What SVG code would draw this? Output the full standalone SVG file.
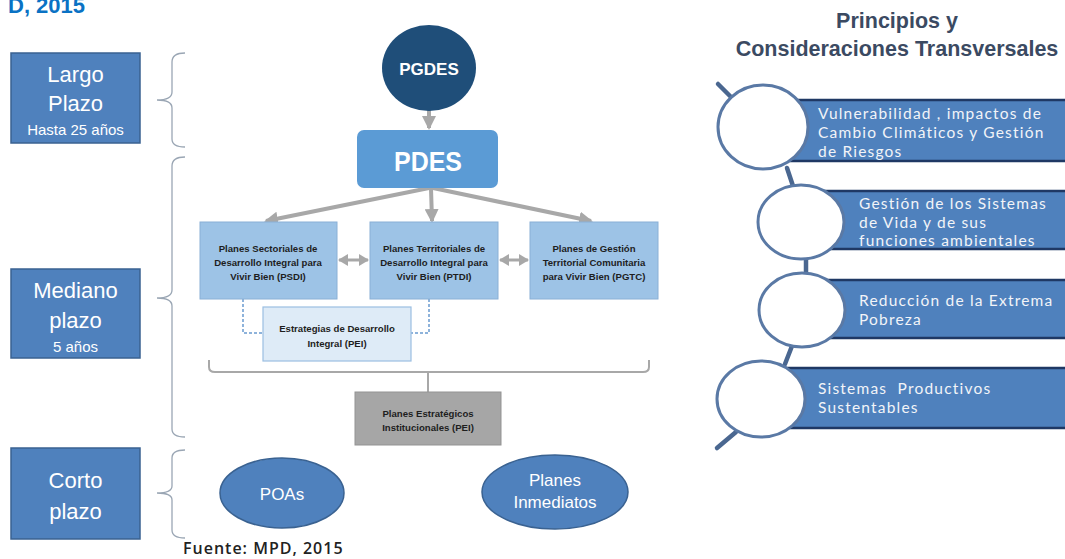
<svg xmlns="http://www.w3.org/2000/svg" width="1065" height="559" viewBox="0 0 1065 559">
<style>
.lbox{fill:#4f81bd;stroke:#3a6291;stroke-width:1.5}
.lt{font-family:"Liberation Sans",Arial,sans-serif;fill:#fff;text-anchor:middle}
.brace{fill:none;stroke:#9aa6b4;stroke-width:1.3}
.pbox{fill:#9dc3e6;stroke:#8ab0d6;stroke-width:1}
.bt{font-family:"Liberation Sans",Arial,sans-serif;font-weight:bold;font-size:9.6px;fill:#1e1e1e;text-anchor:middle}
.gline{fill:none;stroke:#a8a8a8}
.dash{fill:none;stroke:#6a9bd0;stroke-width:1.5;stroke-dasharray:3 2}
.ell{fill:#4f81bd;stroke:#3a6291;stroke-width:1.5}
.banner{fill:#4f81bd;stroke:none}
.bedge{stroke:#1f3864;stroke-width:2.5}
.circ{fill:#fff;stroke:#5a79a5;stroke-width:3}
.tl{stroke:#4a6790;stroke-width:4.5;stroke-linecap:round}
.rt{font-family:Lato,"Open Sans",sans-serif;font-size:15.5px;letter-spacing:1.2px;fill:#f2f4f8}
.tt{font-family:"Liberation Sans",Arial,sans-serif;font-weight:bold;font-size:21.5px;fill:#3b4a62;text-anchor:middle}
</style>
<defs>
<marker id="ah" markerUnits="userSpaceOnUse" markerWidth="16" markerHeight="14" refX="12" refY="7" orient="auto">
<path d="M0,0 L14,7 L0,14 Z" fill="#a8a8a8"/>
</marker>
<marker id="ahs" markerUnits="userSpaceOnUse" markerWidth="12" markerHeight="12" refX="9" refY="6" orient="auto-start-reverse">
<path d="M0,0 L10,6 L0,12 Z" fill="#a8a8a8"/>
</marker>
</defs>
<rect width="1065" height="559" fill="#fff"/>
<text x="8" y="13" font-family="Liberation Sans,Arial,sans-serif" font-weight="bold" font-size="22" fill="#0a72c4">D, 2015</text>

<g id="largo">
<rect class="lbox" x="11" y="53" width="129" height="90"/>
<text class="lt" x="75.5" y="82" font-size="22">Largo</text>
<text class="lt" x="75.5" y="111" font-size="22">Plazo</text>
<text class="lt" x="75.5" y="135" font-size="15">Hasta 25 años</text>
</g>
<g id="mediano">
<rect class="lbox" x="11" y="269" width="129" height="89"/>
<text class="lt" x="75.5" y="298" font-size="22">Mediano</text>
<text class="lt" x="75.5" y="328" font-size="22">plazo</text>
<text class="lt" x="75.5" y="352" font-size="15">5 años</text>
</g>
<g id="corto">
<rect class="lbox" x="11" y="448" width="129" height="91"/>
<text class="lt" x="75.5" y="488" font-size="22">Corto</text>
<text class="lt" x="75.5" y="519" font-size="22">plazo</text>
</g>

<g id="braces">
<path class="brace" d="M185,53 Q172,53 172,62 L172,92 Q172,100 157,100 Q172,100 172,108 L172,139 Q172,147 185,147"/>
<path class="brace" d="M185,157 Q172,157 172,166 L172,290 Q172,298 157,298 Q172,298 172,306 L172,429 Q172,437 185,437"/>
<path class="brace" d="M185,450 Q172,450 172,458 L172,486 Q172,493 157,493 Q172,493 172,500 L172,530 Q172,538 185,538"/>
</g>

<g id="connectors">
<line class="gline" x1="429" y1="110" x2="429" y2="128" stroke-width="4" marker-end="url(#ah)"/>
<line class="gline" x1="429" y1="188" x2="266" y2="221" stroke-width="4" marker-end="url(#ah)"/>
<line class="gline" x1="431" y1="188" x2="432" y2="221" stroke-width="4" marker-end="url(#ah)"/>
<line class="gline" x1="433" y1="188" x2="591" y2="221" stroke-width="4" marker-end="url(#ah)"/>
<line class="gline" x1="339" y1="260" x2="368" y2="260" stroke-width="3" marker-start="url(#ahs)" marker-end="url(#ahs)"/>
<line class="gline" x1="500" y1="260" x2="528" y2="260" stroke-width="3" marker-start="url(#ahs)" marker-end="url(#ahs)"/>
<path class="dash" d="M243,299 L243,333 L263,333"/>
<path class="dash" d="M429,299 L429,333 L411,333"/>
<path class="gline" stroke-width="2" d="M209,360 L209,367 Q209,372 215,372 L643,372 Q649,372 649,367 L649,360"/>
<line class="gline" stroke-width="2" x1="428" y1="372" x2="428" y2="392"/>
</g>

<g id="pgdes">
<ellipse cx="429" cy="68" rx="47" ry="43" fill="#1f4e79"/>
<text x="429" y="75" font-family="Liberation Sans,Arial,sans-serif" font-weight="bold" font-size="17" fill="#fff" text-anchor="middle">PGDES</text>
</g>
<g id="pdes">
<rect x="357" y="130" width="141" height="58" rx="7" fill="#5b9bd5"/>
<text x="428" y="171" font-family="Liberation Sans,Arial,sans-serif" font-weight="bold" font-size="28" fill="#fff" text-anchor="middle" textLength="68" lengthAdjust="spacingAndGlyphs">PDES</text>
</g>
<g id="psdi">
<rect class="pbox" x="200" y="222" width="137" height="77"/>
<text class="bt" x="268" y="252">Planes Sectoriales de</text>
<text class="bt" x="268" y="266">Desarrollo Integral para</text>
<text class="bt" x="268" y="280">Vivir Bien (PSDI)</text>
</g>
<g id="ptdi">
<rect class="pbox" x="370" y="222" width="128" height="77"/>
<text class="bt" x="434" y="252">Planes Territoriales de</text>
<text class="bt" x="434" y="266">Desarrollo Integral para</text>
<text class="bt" x="434" y="280">Vivir Bien (PTDI)</text>
</g>
<g id="pgtc">
<rect class="pbox" x="530" y="222" width="128" height="77"/>
<text class="bt" x="594" y="252">Planes de Gestión</text>
<text class="bt" x="594" y="266">Territorial Comunitaria</text>
<text class="bt" x="594" y="280">para Vivir Bien (PGTC)</text>
</g>
<g id="pei">
<rect x="263" y="307" width="148" height="54" fill="#deebf7" stroke="#9bbfe2" stroke-width="1.2"/>
<text class="bt" x="337" y="332" fill="#333">Estrategias de Desarrollo</text>
<text class="bt" x="337" y="347" fill="#333">Integral (PEI)</text>
</g>
<g id="pei-inst">
<rect x="355" y="392" width="146" height="53" fill="#a6a6a6" stroke="#939393" stroke-width="1"/>
<text class="bt" x="428" y="417">Planes Estratégicos</text>
<text class="bt" x="428" y="431">Institucionales (PEI)</text>
</g>
<g id="poas">
<ellipse class="ell" cx="282" cy="493" rx="62" ry="35"/>
<text class="lt" x="282" y="500" font-size="17">POAs</text>
</g>
<g id="inmediatos">
<ellipse class="ell" cx="555" cy="492" rx="73" ry="37"/>
<text class="lt" x="555" y="486" font-size="17">Planes</text>
<text class="lt" x="555" y="508" font-size="17">Inmediatos</text>
</g>
<text x="183" y="554" font-family="Open Sans,Noto Sans,sans-serif" font-weight="600" font-size="16" letter-spacing="1" fill="#222">Fuente: MPD, 2015</text>

<g id="principios">
<text class="tt" x="897" y="28">Principios y</text>
<text class="tt" x="897" y="56">Consideraciones Transversales</text>
</g>
<g id="timeline">
<line class="tl" x1="718" y1="84" x2="734" y2="100"/>
<line class="tl" x1="787" y1="168" x2="793" y2="186"/>
<line class="tl" x1="806" y1="258" x2="806" y2="273"/>
<line class="tl" x1="792" y1="346" x2="785" y2="364"/>
<line class="tl" x1="736" y1="432" x2="717" y2="448"/>
</g>
<g id="item1">
<rect class="banner" x="790" y="100" width="280" height="61"/>
<line class="bedge" x1="790" y1="100" x2="1065" y2="100"/>
<line class="bedge" x1="790" y1="161" x2="1065" y2="161"/>
<ellipse class="circ" cx="763" cy="127" rx="45" ry="42"/>
<text class="rt" x="818" y="119">Vulnerabilidad , impactos de</text>
<text class="rt" x="818" y="138">Cambio Climáticos y Gestión</text>
<text class="rt" x="818" y="157">de Riesgos</text>
</g>
<g id="item2">
<rect class="banner" x="820" y="191" width="250" height="58"/>
<line class="bedge" x1="820" y1="191" x2="1065" y2="191"/>
<line class="bedge" x1="820" y1="249" x2="1065" y2="249"/>
<ellipse class="circ" cx="801" cy="222" rx="43" ry="37"/>
<text class="rt" x="859" y="209">Gestión de los Sistemas</text>
<text class="rt" x="859" y="228">de Vida y de sus</text>
<text class="rt" x="859" y="246">funciones ambientales</text>
</g>
<g id="item3">
<rect class="banner" x="820" y="280" width="250" height="58"/>
<line class="bedge" x1="820" y1="280" x2="1065" y2="280"/>
<line class="bedge" x1="820" y1="338" x2="1065" y2="338"/>
<ellipse class="circ" cx="802" cy="310" rx="43" ry="37"/>
<text class="rt" x="859" y="306">Reducción de la Extrema</text>
<text class="rt" x="859" y="325">Pobreza</text>
</g>
<g id="item4">
<rect class="banner" x="780" y="368" width="290" height="60"/>
<line class="bedge" x1="780" y1="368" x2="1065" y2="368"/>
<line class="bedge" x1="780" y1="428" x2="1065" y2="428"/>
<ellipse class="circ" cx="761" cy="399" rx="44" ry="38"/>
<text class="rt" x="818" y="394" xml:space="preserve">Sistemas  Productivos</text>
<text class="rt" x="818" y="413">Sustentables</text>
</g>
</svg>
